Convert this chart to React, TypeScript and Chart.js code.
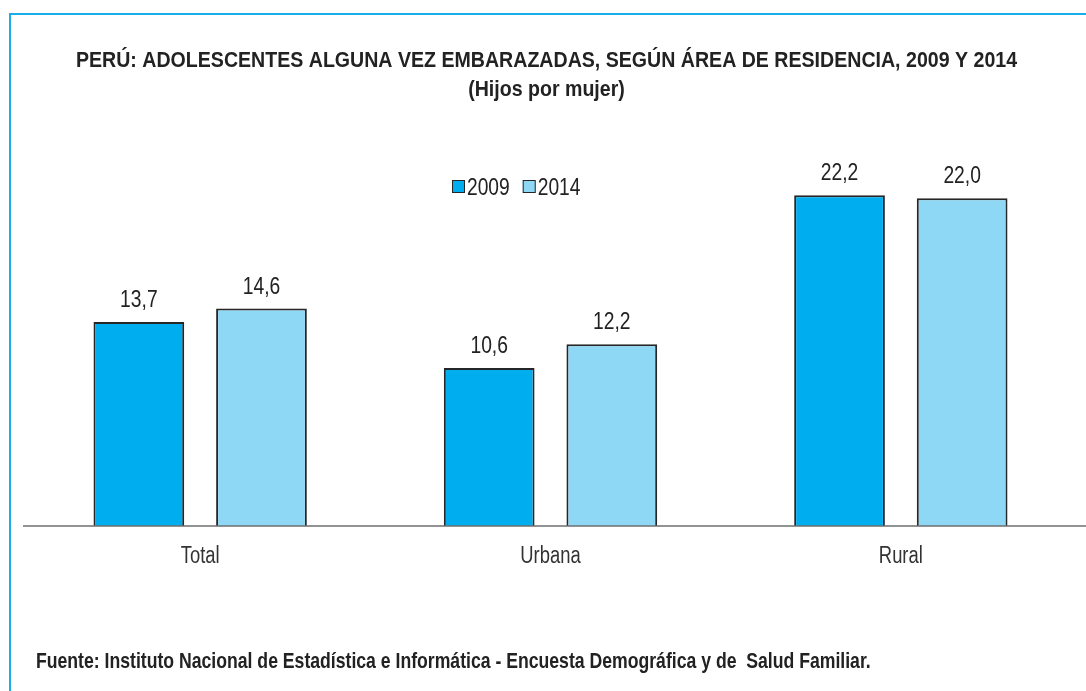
import React, { useEffect, useRef } from "react";
import { Chart, registerables } from "chart.js";

Chart.register(...registerables);

const categories = ["Total", "Urbana", "Rural"];
const seriesLabels = ["2009", "2014"];
const values2009 = [13.7, 10.6, 22.2];
const values2014 = [14.6, 12.2, 22.0];
const titleLines = [
  "PERÚ: ADOLESCENTES ALGUNA VEZ EMBARAZADAS, SEGÚN ÁREA DE RESIDENCIA, 2009 Y 2014",
  "(Hijos por mujer)",
];
const sourceText =
  "Fuente: Instituto Nacional de Estadística e Informática - Encuesta Demográfica y de  Salud Familiar.";

const FONT = '"Liberation Sans", Arial, sans-serif';
const C2009 = "#00AEEF";
const C2014 = "#8ED8F6";
const BORDER = "#262626";
const TEXT = "#222";

const fmt = (v: number) => v.toFixed(1).replace(".", ",");

// draw horizontally condensed text (emulates a narrow typeface)
function narrowText(ctx: CanvasRenderingContext2D, text: string, x: number, y: number, font: string, sx: number, align: CanvasTextAlign) {
  ctx.save();
  ctx.translate(x, y);
  ctx.scale(sx, 1);
  ctx.font = font;
  ctx.textAlign = align;
  ctx.textBaseline = "alphabetic";
  ctx.fillText(text, 0, 0);
  ctx.restore();
}

const extrasPlugin = {
  id: "extras",
  afterDatasetsDraw(chart: any) {
    const { ctx, chartArea } = chart;
    const yScale = chart.scales.y;
    const xScale = chart.scales.x;
    const base = yScale.getPixelForValue(0);
    const cx = (chartArea.left + chartArea.right) / 2;
    ctx.save();
    ctx.fillStyle = TEXT;
    // title
    narrowText(ctx, titleLines[0], cx - 4, 67, `bold 22px ${FONT}`, 0.89, "center");
    narrowText(ctx, titleLines[1], cx - 4, 96, `bold 22px ${FONT}`, 0.89, "center");
    // baseline axis
    ctx.strokeStyle = "#6e6e6e";
    ctx.lineWidth = 1.5;
    ctx.beginPath();
    ctx.moveTo(chartArea.left - 2, base);
    ctx.lineTo(chart.width, base);
    ctx.stroke();
    // category labels
    ctx.fillStyle = "#333";
    chart.data.labels.forEach((lab: string, i: number) => {
      narrowText(ctx, lab, xScale.getPixelForTick(i), base + 37, `23px ${FONT}`, 0.8, "center");
    });
    // value labels
    ctx.fillStyle = TEXT;
    chart.data.datasets.forEach((ds: any, i: number) => {
      const meta = chart.getDatasetMeta(i);
      meta.data.forEach((bar: any, j: number) => {
        narrowText(ctx, fmt(ds.data[j]), bar.x, bar.y - 15, `23.5px ${FONT}`, 0.82, "center");
      });
    });
    // legend
    const colors = [C2009, C2014];
    let lx = chartArea.left + 427;
    const ly = 180;
    seriesLabels.forEach((lab, i) => {
      ctx.fillStyle = colors[i];
      ctx.fillRect(lx, ly, 13, 13);
      ctx.strokeStyle = BORDER;
      ctx.lineWidth = 1;
      ctx.strokeRect(lx + 0.5, ly + 0.5, 12, 12);
      ctx.fillStyle = TEXT;
      narrowText(ctx, lab, lx + 15, ly + 15, `24px ${FONT}`, 0.8, "left");
      ctx.font = `24px ${FONT}`;
      lx += 15 + ctx.measureText(lab).width * 0.8 + 13;
    });
    // source
    ctx.fillStyle = TEXT;
    narrowText(ctx, sourceText, 36, 668, `bold 21.5px ${FONT}`, 0.82, "left");
    ctx.restore();
  },
};

export default function App() {
  const ref = useRef<HTMLCanvasElement | null>(null);
  useEffect(() => {
    if (!ref.current) return;
    const chart = new Chart(ref.current, {
      type: "bar",
      data: {
        labels: categories,
        datasets: [
          {
            label: seriesLabels[0],
            data: values2009,
            backgroundColor: C2009,
            borderColor: BORDER,
            borderWidth: 2,
            categoryPercentage: 0.7,
            barPercentage: 0.74,
          },
          {
            label: seriesLabels[1],
            data: values2014,
            backgroundColor: C2014,
            borderColor: BORDER,
            borderWidth: 2,
            categoryPercentage: 0.7,
            barPercentage: 0.74,
          },
        ],
      },
      options: {
        animation: false,
        responsive: false,
        maintainAspectRatio: false,
        layout: { padding: { left: 25, right: 10, top: 170, bottom: 165 } },
        plugins: {
          legend: { display: false },
          tooltip: { enabled: false },
          title: { display: false },
        },
        scales: {
          x: {
            grid: { display: false, drawTicks: false },
            border: { display: false },
            ticks: { display: false },
          },
          y: { display: false, min: 0, max: 23.9 },
        },
      },
      plugins: [extrasPlugin],
    });
    return () => chart.destroy();
  }, []);
  return (
    <div style={{ position: "fixed", left: 0, top: 0, width: 1086, height: 691, background: "#fff", overflow: "hidden" }}>
      <div
        style={{
          position: "absolute",
          left: 9,
          top: 13,
          width: 1200,
          height: 800,
          borderTop: "2px solid #1AADE8",
          borderLeft: "2px solid #1AADE8",
        }}
      />
      <canvas ref={ref} width={1086} height={691} style={{ position: "absolute", left: 0, top: 0 }} />
    </div>
  );
}
